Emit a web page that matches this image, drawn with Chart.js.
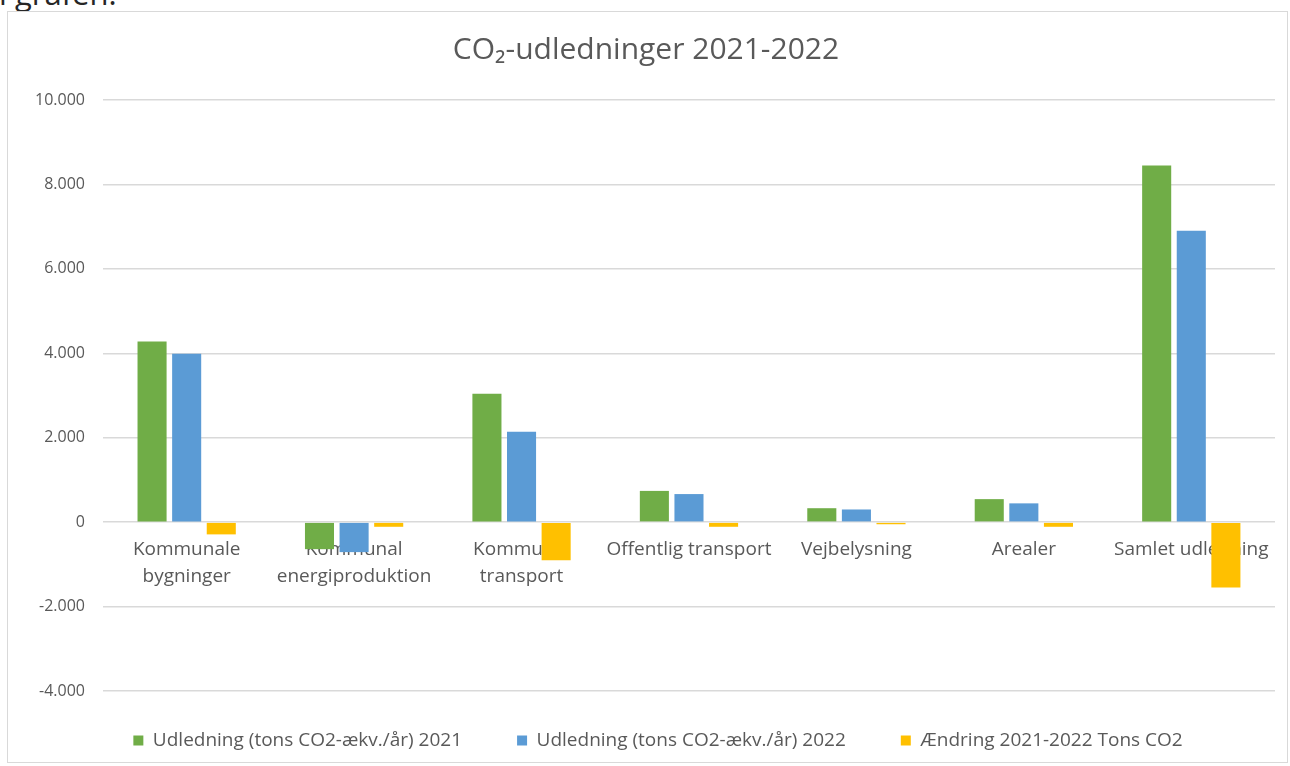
<!DOCTYPE html>
<html lang="da">
<head>
    <meta charset="UTF-8">
    <title>CO2-udledninger 2021-2022</title>
    <script src="https://cdn.jsdelivr.net/npm/chart.js"></script>
    <style>
        body {
            margin: 0;
            background: #fff;
            width: 1290px;
            height: 766px;
            overflow: hidden;
            position: relative;
        }
        .above {
            position: absolute;
            left: -1px;
            top: -28px;
            font-family: "Open Sans", sans-serif;
            font-size: 31px;
            color: #262626;
        }
        .box {
            position: absolute;
            left: 7px;
            top: 11px;
            width: 1279px;
            height: 750px;
            border: 1px solid #d9d9d9;
        }
    </style>
</head>
<body>
    <div class="above">i grafen.</div>
    <div class="box">
        <canvas id="co2Chart" width="1279" height="750"></canvas>
    </div>

    <script>
        // values (tons CO2-ækv. per år)
        const categories = [
            ['Kommunale', 'bygninger'],
            ['Kommunal', 'energiproduktion'],
            ['Kommunal', 'transport'],
            'Offentlig transport',
            'Vejbelysning',
            'Arealer',
            'Samlet udledning'
        ];
        const udledning2021 = [4280, -640, 3040, 740, 330, 545, 8450];
        const udledning2022 = [3990, -710, 2140, 665, 300, 445, 6900];
        const aendring = [-290, -110, -900, -110, -50, -110, -1550];

        const seriesNames = [
            'Udledning (tons CO2-ækv./år) 2021',
            'Udledning (tons CO2-ækv./år) 2022',
            'Ændring 2021-2022 Tons CO2'
        ];
        const yTicks = { min: -4000, max: 10000, step: 2000 };

        const grey = '#595959';

        function danishNumber(v) {
            const s = String(Math.abs(v)).replace(/\B(?=(\d{3})+(?!\d))/g, '.');
            return (v < 0 ? '-' : '') + s;
        }

        // nudge the legend up/right a little, Excel puts it closer to the plot
        const legendSpot = {
            id: 'legendSpot',
            afterLayout(chart) {
                const lg = chart.legend;
                lg.top -= 15;
                lg.bottom -= 15;
                lg.left += 12;
                lg.right += 12;
            }
        };

        const ctx = document.getElementById('co2Chart').getContext('2d');
        new Chart(ctx, {
            type: 'bar',
            data: {
                labels: categories,
                datasets: [
                    { label: seriesNames[0], data: udledning2021, backgroundColor: '#70AD47' },
                    { label: seriesNames[1], data: udledning2022, backgroundColor: '#5B9BD5' },
                    { label: seriesNames[2], data: aendring, backgroundColor: '#FFC000' }
                ]
            },
            options: {
                responsive: false,
                animation: false,
                layout: {
                    padding: { left: 9, right: 12, top: 10, bottom: -13 }
                },
                categoryPercentage: 0.62,
                barPercentage: 0.84,
                scales: {
                    x: {
                        position: { y: 0 },
                        grid: { display: false, drawTicks: false },
                        border: { display: false },
                        ticks: {
                            color: grey,
                            padding: 14,
                            maxRotation: 0,
                            autoSkip: false,
                            font: { family: 'Open Sans', size: 19, lineHeight: 1.42 }
                        }
                    },
                    y: {
                        min: yTicks.min,
                        max: yTicks.max,
                        grid: { color: '#d9d9d9', lineWidth: 1.5, drawTicks: false },
                        border: { display: false },
                        ticks: {
                            stepSize: yTicks.step,
                            color: grey,
                            padding: 18,
                            font: { family: 'Open Sans', size: 16 },
                            callback: v => danishNumber(v)
                        }
                    }
                },
                plugins: {
                    title: {
                        display: true,
                        text: 'CO₂-udledninger 2021-2022',
                        color: grey,
                        font: { family: 'Open Sans', size: 30, weight: 'normal' },
                        padding: { top: 10, bottom: 32 }
                    },
                    legend: {
                        position: 'bottom',
                        labels: {
                            color: grey,
                            boxWidth: 10,
                            boxHeight: 10,
                            padding: 55,
                            font: { family: 'Open Sans', size: 19 }
                        }
                    },
                    tooltip: { enabled: false }
                }
            },
            plugins: [legendSpot]
        });
    </script>
</body>
</html>
